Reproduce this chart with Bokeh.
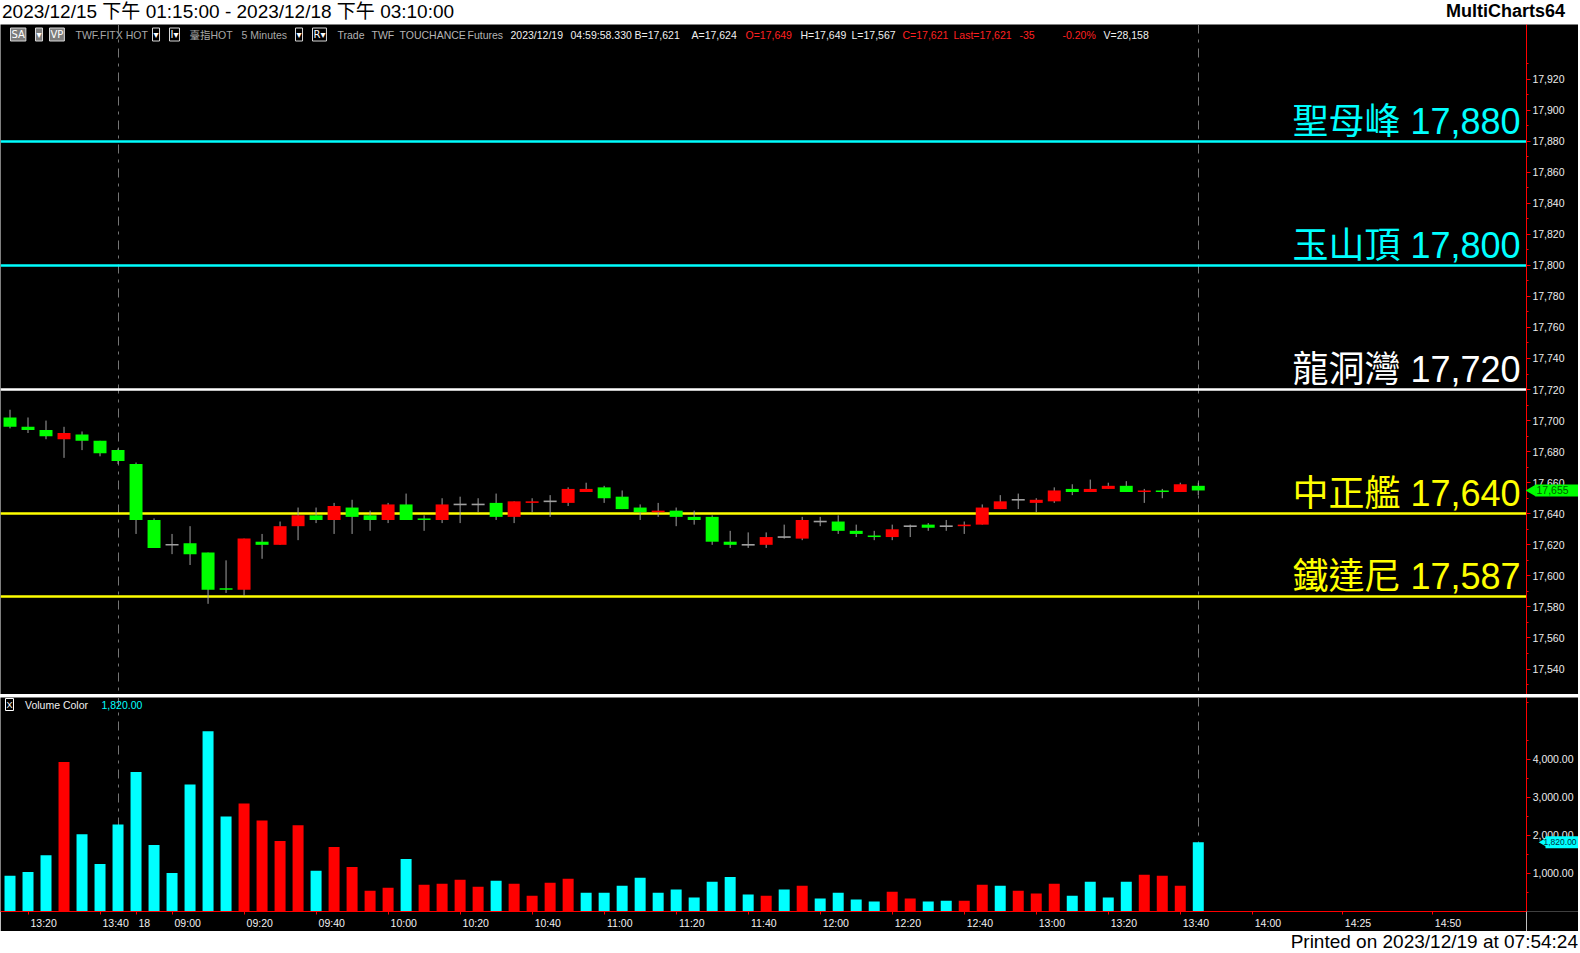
import math
from bokeh.plotting import figure
from bokeh.models import Range1d, LinearAxis, FixedTicker, Label, NumeralTickFormatter, Div
from bokeh.layouts import column, row
from bokeh.core.properties import value
from bokeh.embed import file_html
from bokeh.resources import INLINE

# ---------------- data ----------------
bar_idx = list(range(67))
opens = [17702, 17696, 17694, 17688, 17691, 17687, 17681, 17672, 17636, 17620,
         17621, 17615, 17592, 17591, 17622, 17620, 17632, 17639, 17636, 17644,
         17639, 17636, 17646, 17637, 17636, 17646, 17646, 17647, 17638, 17647,
         17648, 17647, 17654, 17657, 17651, 17644, 17641, 17642, 17638, 17638,
         17622, 17620, 17620, 17625, 17624, 17635, 17635, 17629, 17626, 17625,
         17632, 17633, 17632, 17632, 17633, 17643, 17649, 17647, 17648, 17656,
         17654, 17656, 17658, 17654, 17655, 17654, 17658]
highs = [17707, 17702, 17700, 17696, 17693, 17687, 17682, 17673, 17637, 17627,
         17632, 17615, 17610, 17624, 17627, 17635, 17644, 17644, 17647, 17649,
         17642, 17647, 17653, 17639, 17650, 17651, 17650, 17653, 17648, 17650,
         17652, 17657, 17660, 17658, 17655, 17646, 17647, 17644, 17642, 17639,
         17629, 17628, 17628, 17633, 17638, 17638, 17639, 17633, 17629, 17633,
         17633, 17634, 17636, 17635, 17646, 17652, 17653, 17650, 17657, 17659,
         17662, 17660, 17661, 17656, 17656, 17660, 17660]
lows = [17695, 17692, 17688, 17676, 17681, 17677, 17672, 17627, 17618, 17614,
        17607, 17582, 17589, 17587, 17611, 17620, 17623, 17634, 17627, 17627,
        17629, 17634, 17636, 17629, 17634, 17634, 17641, 17636, 17634, 17641,
        17638, 17645, 17654, 17647, 17643, 17636, 17638, 17632, 17633, 17620,
        17618, 17618, 17618, 17624, 17623, 17632, 17627, 17625, 17623, 17623,
        17625, 17629, 17629, 17627, 17633, 17643, 17643, 17641, 17647, 17652,
        17654, 17656, 17654, 17647, 17650, 17654, 17652]
closes = [17696, 17694, 17690, 17692, 17687, 17679, 17674, 17636, 17618, 17620,
          17614, 17591, 17591, 17624, 17620, 17632, 17639, 17636, 17645, 17638,
          17636, 17646, 17636, 17636, 17646, 17646, 17646, 17638, 17648, 17648,
          17648, 17656, 17656, 17650, 17643, 17641, 17642, 17638, 17636, 17622,
          17620, 17620, 17625, 17625, 17636, 17635, 17629, 17627, 17625, 17630,
          17632, 17631, 17632, 17633, 17644, 17648, 17649, 17649, 17655, 17654,
          17656, 17658, 17654, 17655, 17654, 17659, 17655]
volumes = [940, 1040, 1480, 3930, 2030, 1250, 2290, 3670, 1745, 1015,
           3335, 4740, 2500, 2840, 2395, 1850, 2265, 1070, 1695, 1170,
           545, 625, 1380, 705, 730, 835, 650, 805, 730, 415,
           755, 860, 495, 495, 675, 885, 495, 575, 365, 780,
           910, 445, 415, 575, 675, 340, 495, 315, 260, 520,
           340, 260, 285, 285, 705, 675, 545, 470, 730, 415,
           780, 365, 780, 965, 940, 675, 1820]
vol_side = list("cccrcccccc" "cccrrrrcrr" "rrcrrrrcrr" "rrcccccccc"
                "ccrcrccccr" "rccrrcrrrc" "cccrrrc")

levels = [17880, 17800, 17720, 17640, 17587]
level_names = ["聖母峰", "玉山頂", "龍洞灣", "中正艦", "鐵達尼"]
level_colors = ["#00ffff", "#00ffff", "#ffffff", "#ffff00", "#ffff00"]

price_ticks = [17540, 17560, 17580, 17600, 17620, 17640, 17660, 17680, 17700,
               17720, 17740, 17760, 17780, 17800, 17820, 17840, 17860, 17880,
               17900, 17920]
price_minor = [t + 10 for t in [17520] + price_ticks]
vol_ticks = [1000, 2000, 3000, 4000]
vol_minor = [500, 1500, 2500, 3500, 4500, 5500]

x_tick_bars = [1, 5, 7, 9, 13, 17, 21, 25, 29, 33, 37, 41, 45, 49, 53, 57, 61, 65, 69, 74, 79]
x_tick_labels = ["13:20", "13:40", "18", "09:00", "09:20", "09:40", "10:00", "10:20",
                 "10:40", "11:00", "11:20", "11:40", "12:00", "12:20", "12:40", "13:00",
                 "13:20", "13:40", "14:00", "14:25", "14:50"]
session_marks = [6, 66]
last_price = 17655
last_volume = 1820

header_text = "2023/12/15 下午 01:15:00 - 2023/12/18 下午 03:10:00"
brand_text = "MultiCharts64"
footer_text = "Printed on 2023/12/19 at 07:54:24"

# ---------------- layout constants ----------------
W = 1578
FW = 1526            # chart frame width
AW = W - FW          # axis strip width
PH = 670             # price panel height
VF = 216             # volume frame height
VB = 18              # time axis strip height
FONT = "Liberation Sans, Noto Sans CJK TC"
XR = Range1d(-0.528, 84.23)
PY = Range1d(17523.6, 17955.1)
VY = Range1d(0, 5625)

RED = "#ff0000"
GREEN = "#00ff00"
CYAN = "#00ffff"
GREY = "#a0a0a0"


def base_fig(w, h, bg, xr=None, yr=None, **kw):
    f = figure(width=w, height=h, x_range=xr if xr is not None else Range1d(0, 1),
               y_range=yr if yr is not None else Range1d(0, 1),
               output_backend="svg", toolbar_location=None,
               x_axis_location=None, y_axis_location=None,
               background_fill_color=bg, border_fill_color=bg,
               outline_line_color=None, min_border=0, **kw)
    f.grid.visible = False
    return f


def value_axis(ticks, minor, fmt, label_right_edge):
    # axis line at the left edge of the strip, ticks pointing right, labels right of it
    return LinearAxis(ticker=FixedTicker(ticks=ticks, minor_ticks=minor),
                      formatter=NumeralTickFormatter(format=fmt),
                      axis_line_color=RED, major_tick_line_color=RED, minor_tick_line_color=RED,
                      major_tick_out=0, major_tick_in=4, minor_tick_out=0, minor_tick_in=2,
                      major_label_standoff=-label_right_edge, major_label_text_color="#ececec",
                      major_label_text_font="Liberation Sans", major_label_text_font_size="10.5px")


# ---------------- header ----------------
hdr = Div(text=(
    '<div style="display:flex;justify-content:space-between;align-items:center;'
    'width:%dpx;height:24px;background:#ffffff;color:#000000;overflow:hidden;">'
    '<span style="font-family:\'Liberation Sans\',\'Noto Sans CJK TC\';font-size:19px;'
    'padding-left:2px;white-space:nowrap;">%s</span>'
    '<span style="font-family:\'Liberation Sans\';font-weight:bold;font-size:18px;'
    'padding-right:13px;white-space:nowrap;">%s</span></div>') % (W, header_text, brand_text),
    width=W, height=24, margin=0)

# ---------------- price panel ----------------
p = base_fig(FW, PH, "black", XR, PY)

p.vspan(x=session_marks, line_color="#747474", line_width=1, line_dash="9 6 3 6")
p.hspan(y=levels, line_color=level_colors, line_width=2.4)

p.segment(x0=bar_idx, y0=lows, x1=bar_idx, y1=highs, line_color=GREY, line_width=1)
bx, btop, bbot, bcol, dx, dy = [], [], [], [], [], []
for i, o, c in zip(bar_idx, opens, closes):
    if o == c:
        dx.append(i)
        dy.append(c)
    else:
        bx.append(i)
        btop.append(max(o, c))
        bbot.append(min(o, c))
        bcol.append(RED if c > o else GREEN)
p.vbar(x=bx, width=0.72, top=btop, bottom=bbot, fill_color=bcol, line_color=None)
p.scatter(x=dx, y=dy, marker="dash", size=13, line_color=GREY, line_width=1.6)

# level names sit just above their lines, right-aligned against the axis
for name, lv, col in zip(level_names, levels, level_colors):
    p.add_layout(Label(x=FW - 6, y=lv, x_units="screen", y_units="data",
                       text=f"{name} {lv:,}", text_font=FONT, text_font_size="36px",
                       text_color=col, text_align="right", text_baseline="middle",
                       y_offset=20))

IY = PH - 10
boxes = [(10, "SA", "#7c7c7c"), (35, "▾", "#7c7c7c"), (49, "VP", "#7c7c7c"),
         (152, "▾", "black"), (169, "I▾", "black"), (295, "▾", "black"), (312, "R▾", "black")]
for bxp, t, bg in boxes:
    p.add_layout(Label(x=bxp, y=IY, x_units="screen", y_units="screen", text=t,
                       text_font="DejaVu Sans", text_font_size="10px", text_color="white",
                       background_fill_color=bg, border_line_color="#d8d8d8",
                       text_baseline="middle", padding=1))
info = [(75, "TWF.FITX HOT", "#a8a8a8"), (189, "臺指HOT", "#a8a8a8"), (241, "5 Minutes", "#a8a8a8"),
        (337, "Trade", "#b4b4b4"), (371, "TWF", "#b4b4b4"), (399, "TOUCHANCE", "#b4b4b4"),
        (467, "Futures", "#b4b4b4"), (510, "2023/12/19", "#f0f0f0"), (570, "04:59:58.330", "#f0f0f0"),
        (634, "B=17,621", "#f0f0f0"), (691, "A=17,624", "#f0f0f0"), (745, "O=17,649", "#ff2020"),
        (800, "H=17,649", "#f0f0f0"), (851, "L=17,567", "#f0f0f0"), (902, "C=17,621", "#ff2020"),
        (953, "Last=17,621", "#ff2020"), (1019, "-35", "#ff2020"), (1062, "-0.20%", "#ff2020"),
        (1103, "V=28,158", "#f0f0f0")]
for ix, t, col in info:
    p.add_layout(Label(x=ix, y=IY, x_units="screen", y_units="screen", text=t,
                       text_font=FONT, text_font_size="10.5px", text_color=col,
                       text_baseline="middle"))

# price axis strip
pax = base_fig(AW, PH, "black", Range1d(0, AW), PY)
pax.add_layout(value_axis(price_ticks, price_minor, "0,0", 38), "left")
pax.rect(x=[30.5], y=[last_price], width=43, height=12, height_units="screen",
         fill_color=GREEN, line_color=None, level="overlay")
pax.scatter(x=[6], y=[last_price], marker="triangle", angle=math.pi / 2, size=12,
            fill_color=GREEN, line_color=None, level="overlay")
pax.text(x=[10], y=[last_price], text=[f"{last_price:,}"], text_baseline="middle",
         text_font=value("Liberation Sans"), text_font_size="10.5px", text_color="#006000",
         level="overlay")

# ---------------- separator ----------------
sep = base_fig(W, 3, "#d0d0d0")

# ---------------- volume panel ----------------
v = base_fig(FW, VF + VB, "black", XR, VY, min_border_bottom=VB)


def label_w(s):
    return 10.5 * sum(0.556 if ch.isdigit() else 0.278 for ch in s)


x_label_pos = [round(b + (2.5 + label_w(s) / 2) / 18.0, 4) for b, s in zip(x_tick_bars, x_tick_labels)]
xa = LinearAxis(ticker=FixedTicker(ticks=x_label_pos, minor_ticks=x_tick_bars),
                major_label_overrides={k: s for k, s in zip(x_label_pos, x_tick_labels)},
                axis_line_color=RED, major_tick_line_color=None, major_tick_out=3, major_tick_in=0,
                minor_tick_line_color=RED, minor_tick_out=3, minor_tick_in=0,
                major_label_standoff=2, major_label_text_color="#f0f0f0",
                major_label_text_font="Liberation Sans", major_label_text_font_size="10.5px")
v.add_layout(xa, "below")

v.vspan(x=session_marks, line_color="#747474", line_width=1, line_dash="9 6 3 6")
vcols = [RED if s == "r" else CYAN for s in vol_side]
v.vbar(x=bar_idx, width=0.61, top=volumes, bottom=0, fill_color=vcols, line_color=None)

LY = VF - 9
v.add_layout(Label(x=5, y=LY, x_units="screen", y_units="screen", text="X",
                   text_font="Liberation Sans", text_font_size="9px", text_color="white",
                   border_line_color="white", text_baseline="middle", padding=1))
v.add_layout(Label(x=24.5, y=LY, x_units="screen", y_units="screen", text="Volume Color",
                   text_font="Liberation Sans", text_font_size="10.5px", text_color="#f0f0f0",
                   text_baseline="middle"))
v.add_layout(Label(x=101, y=LY, x_units="screen", y_units="screen", text=f"{last_volume:,.2f}",
                   text_font="Liberation Sans", text_font_size="10.5px", text_color=CYAN,
                   text_baseline="middle"))

# volume axis strip
vax = base_fig(AW, VF + VB, "black", Range1d(0, AW), VY, min_border_bottom=VB)
vax.add_layout(value_axis(vol_ticks, vol_minor, "0,0.00", 47), "left")
vax.rect(x=[35.5], y=[last_volume], width=33, height=12, height_units="screen",
         fill_color=CYAN, line_color=None, level="overlay")
vax.scatter(x=[18.5], y=[last_volume], marker="triangle", angle=math.pi / 2, size=11,
            fill_color=CYAN, line_color=None, level="overlay")
vax.text(x=[17], y=[last_volume], text=[f"{last_volume:,.2f}"], text_baseline="middle",
         text_font=value("Liberation Sans"), text_font_size="8.5px", text_color="#003040",
         level="overlay")

# ---------------- footer ----------------
ftr = Div(text=(
    '<div style="display:flex;justify-content:flex-end;align-items:center;'
    'width:%dpx;height:21px;background:#ffffff;color:#000000;overflow:hidden;">'
    '<span style="font-family:\'Liberation Sans\';font-size:19px;white-space:nowrap;">%s</span>'
    '</div>') % (W, footer_text),
    width=W, height=21, margin=0)

layout = column(hdr, row(p, pax, spacing=0), sep, row(v, vax, spacing=0), ftr, spacing=0)
open("out.html", "w").write(file_html(layout, INLINE))
